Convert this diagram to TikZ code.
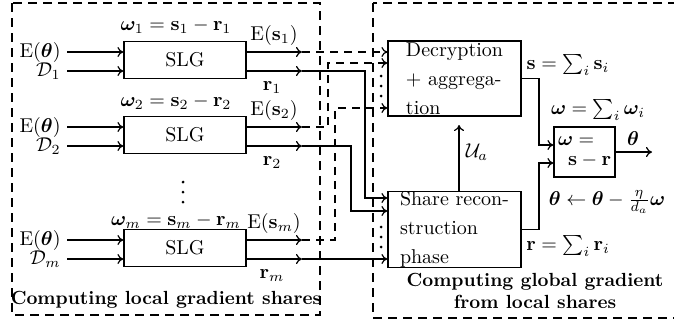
\documentclass[tikz,border=0pt]{standalone}
\usepackage{amsmath,amssymb}
\usepackage{bm}
\usepackage{tikz}
\usetikzlibrary{arrows.meta,positioning,calc}
\tikzset{
  slgbox/.style={
    draw, line width=0.6pt, minimum width=61pt, minimum height=18.5pt,
    inner sep=0pt
  },
  phasebox/.style={
    draw, line width=0.6pt, minimum width=66.5pt, minimum height=37.5pt,
    align=left, inner xsep=3pt, inner ysep=0pt,
    font=\fontsize{10}{14.5}\selectfont
  },
  combox/.style={
    draw, line width=0.6pt, minimum width=30.5pt, minimum height=25pt,
    align=left, inner sep=2pt, font=\fontsize{10}{10}\selectfont
  },
  inlabel/.style={anchor=east, inner sep=3pt},
  regionframe/.style={draw, line width=0.6pt, dash pattern=on 4.5pt off 3pt},
  regiontitle/.style={font=\fontsize{9.5}{11}\selectfont\bfseries, align=center},
  feed/.style={line width=0.6pt, -{To[length=3pt,width=5pt]}},
  share/.style={feed, dash pattern=on 4pt off 3pt}
}

\begin{document}
\begin{tikzpicture}[x=0.5pt,y=-0.5pt]
  \useasboundingbox (0,0) rectangle (674,321);
  % the two dashed regions
  \draw[regionframe] (12,3) rectangle (320,315);
  \draw[regionframe] (373,3) rectangle (690,318);

  % local share generators
  \foreach \i/\y/\dw in {1/60/34,2/135/33,m/248/27}{
    \node[slgbox] (slg\i) at (185,\y) {SLG};
    \node[inlabel] (enc\i) at (67,\y-8) {E($\bm{\theta}$)};
    \node[inlabel] (data\i) at (67,\y+11) {$\mathcal{D}_{\i}$};
    \draw[feed] (enc\i.east) -- (enc\i.east -| slg\i.west);
    \draw[feed] (data\i.east) -- (data\i.east -| slg\i.west);
    \coordinate (es\i) at (302,\y-8);
    \coordinate (rs\i) at (302,\y+11);
    \draw[feed] (slg\i.east |- es\i) -- (es\i);
    \draw[feed] (slg\i.east |- rs\i) -- (rs\i);
    \node (wlab\i) at (176,\y-\dw) {$\bm{\omega}_{\i}=\mathbf{s}_{\i}-\mathbf{r}_{\i}$};
    \node (eslab\i) at (274,\y-25) {E($\mathbf{s}_{\i}$)};
    \node (rlab\i) at (272,\y+28) {$\mathbf{r}_{\i}$};
  }

  % vertical dots (more users / more inputs)
  \foreach \x/\y in {183/182,381/76,381/227}
    \foreach \d in {0,1,2}
      \fill (\x,\y+10*\d) circle (0.75pt);

  % global side
  \node[phasebox] (dec) at (454.5,78.5) {Decryption\\+ aggrega-\\tion};
  \node[phasebox] (shr) at (454.5,229.5) {Share recon-\\struction\\phase};
  \node[combox] (omg) at (584.5,152) {$\bm{\omega}=$\\\hspace{5pt}$\mathbf{s}-\mathbf{r}$};

  % encrypted shares to decryption
  \draw[share] (es1) -- (es1 -| dec.west);
  \draw[share] (es2) -| (328,63) -- ($(dec.west)+(0,-15.5)$);
  \draw[share] (esm) -| (335,108) -- ($(dec.west)+(0,29.5)$);

  % plain shares to reconstruction
  \draw[feed] (rs1) -| (365,198) -- ($(shr.west)+(0,-31.5)$);
  \draw[feed] (rs2) -| (351,211) -- ($(shr.west)+(0,-18.5)$);
  \draw[feed] (rsm) -- (rsm -| shr.west);

  % reconstruction feeds decryption
  \coordinate (ua) at (459,125);
  \draw[feed] (shr.north -| ua) -- (ua);
  \node (ualab) at (477,152) {$\mathcal{U}_a$};

  % combining the sums
  \draw[feed] (dec.east) -| (539,145) -- ($(omg.west)+(0,-7)$);
  \draw[feed] (shr.east) -| (539,163) -- ($(omg.west)+(0,11)$);
  \coordinate (thout) at (652,152);
  \draw[feed] (omg.east) -- (thout);
  \node (thlab) at (633,139) {$\bm{\theta}$};

  \node (slab) at (568,65) {$\mathbf{s}=\sum_i\mathbf{s}_i$};
  \node (wlab) at (598,110) {$\bm{\omega}=\sum_i\bm{\omega}_i$};
  \node (uplab) at (607,202) {$\bm{\theta}\leftarrow\bm{\theta}-\frac{\eta}{d_a}\bm{\omega}$};
  \node (rlab) at (568,246) {$\mathbf{r}=\sum_i\mathbf{r}_i$};

  % region titles
  \node[regiontitle] (loctitle) at (166,300) {Computing local gradient shares};
  \node[regiontitle] (globtitle) at (535,291) {Computing global gradient\\from local shares};
\end{tikzpicture}
\end{document}
